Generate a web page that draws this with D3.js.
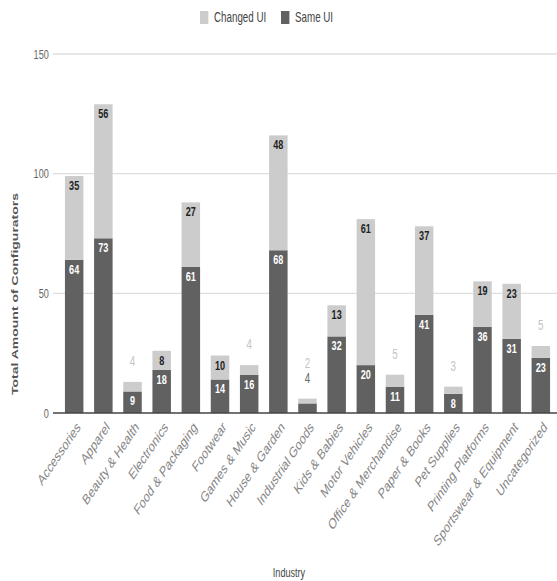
<!DOCTYPE html>
<html>
<head>
<meta charset="utf-8">
<script src="https://cdn.jsdelivr.net/npm/d3@7"></script>
<style>
  html, body { margin: 0; padding: 0; background: #fff; }
  svg { display: block; }
  text { font-family: Arial, "Liberation Sans", sans-serif; }
</style>
</head>
<body>
<svg id="chart"></svg>
<script>
// Configurators per industry, split by whether the UI was changed
const industries = [
  "Accessories", "Apparel", "Beauty & Health", "Electronics", "Food & Packaging",
  "Footwear", "Games & Music", "House & Garden", "Industrial Goods", "Kids & Babies",
  "Motor Vehicles", "Office & Merchandise", "Paper & Books", "Pet Supplies",
  "Printing Platforms", "Sportswear & Equipment", "Uncategorized"
];
const sameUI    = [64, 73, 9, 18, 61, 14, 16, 68, 4, 32, 20, 11, 41, 8, 36, 31, 23];
const changedUI = [35, 56, 4, 8, 27, 10, 4, 48, 2, 13, 61, 5, 37, 3, 19, 23, 5];
const yTicks = [0, 50, 100, 150];

const seriesNames = ["Same UI", "Changed UI"];
const colors = { "Same UI": "#616161", "Changed UI": "#cccccc" };
const insideText = { "Same UI": "#ffffff", "Changed UI": "#222222" };
const outsideText = { "Same UI": "#666666", "Changed UI": "#c4c4c4" };

// The drawing uses a wide internal coordinate space that is squeezed
// horizontally into the page, giving the narrow look of the lettering.
const outW = 557, outH = 581;
const sx = 0.7;
const W = outW / sx, H = outH;

const svg = d3.select("#chart")
  .attr("width", outW).attr("height", outH)
  .attr("viewBox", `0 0 ${W} ${H}`)
  .attr("preserveAspectRatio", "none");

const rows = industries.map((name, i) => ({
  industry: name, "Same UI": sameUI[i], "Changed UI": changedUI[i]
}));

const x = d3.scaleBand()
  .domain(industries)
  .range([59.6 / sx, 555.4 / sx])
  .paddingInner(0.366)
  .paddingOuter(0.183);

const y = d3.scaleLinear().domain([0, 150]).range([413, 54]);

// gridlines + tick labels
const gridLeft = 53 / sx;
const grid = svg.append("g");
grid.selectAll("line")
  .data(yTicks.filter(t => t !== 0))
  .join("line")
  .attr("x1", gridLeft).attr("x2", W)
  .attr("y1", d => y(d)).attr("y2", d => y(d))
  .attr("stroke", "#dedede").attr("stroke-width", 1.4);

const yAxis = svg.append("g")
  .attr("transform", `translate(${gridLeft},0)`)
  .call(d3.axisLeft(y).tickValues(yTicks).tickSize(0).tickPadding(6));
yAxis.select(".domain").remove();
yAxis.selectAll("text")
  .attr("font-size", 13).attr("fill", "#666")
  .attr("font-family", "Arial, 'Liberation Sans', sans-serif");

// stacked bars
const stacked = d3.stack().keys(seriesNames)(rows);
const layers = svg.append("g").selectAll("g")
  .data(stacked)
  .join("g")
  .attr("fill", d => colors[d.key]);

layers.selectAll("rect")
  .data(d => d)
  .join("rect")
  .attr("x", d => x(d.data.industry))
  .attr("width", x.bandwidth())
  .attr("y", d => y(d[1]))
  .attr("height", d => y(d[0]) - y(d[1]));

// baseline
svg.append("line")
  .attr("x1", gridLeft).attr("x2", W)
  .attr("y1", y(0)).attr("y2", y(0))
  .attr("stroke", "#444").attr("stroke-width", 1.4);

// value labels: inside the segment when it is tall enough, otherwise above the bar
const labels = svg.append("g").attr("font-weight", "bold").attr("font-size", 13)
  .attr("text-anchor", "middle");
rows.forEach(row => {
  const cx = x(row.industry) + x.bandwidth() / 2;
  let base = 0;
  const total = row["Same UI"] + row["Changed UI"];
  let outsideCount = 0;
  seriesNames.forEach(key => {
    const v = row[key];
    const top = y(base + v), bottom = y(base);
    if (bottom - top >= 15) {
      labels.append("text")
        .attr("x", cx).attr("y", top + 14)
        .attr("fill", insideText[key])
        .text(v);
    } else {
      labels.append("text")
        .attr("x", cx).attr("y", y(total) - 20 - 15 * outsideCount + 4)
        .attr("fill", outsideText[key])
        .attr("font-weight", "normal")
        .attr("font-size", 14)
        .text(v);
      outsideCount++;
    }
    base += v;
  });
});

// category labels, slanted
const xAxis = svg.append("g")
  .attr("transform", `translate(0,${y(0)})`)
  .call(d3.axisBottom(x).tickSize(0).tickPadding(0));
xAxis.select(".domain").remove();
xAxis.selectAll("text")
  .attr("font-size", 15).attr("fill", "#858585")
  .attr("font-family", "Arial, 'Liberation Sans', sans-serif")
  .attr("text-anchor", "end")
  .attr("dy", null)
  .attr("transform", "translate(10,15) rotate(-46)");

// axis titles
svg.append("text")
  .attr("transform", `translate(${15 / sx},294) rotate(-90)`)
  .attr("text-anchor", "middle").attr("dy", "0.35em")
  .attr("font-size", 14).attr("font-weight", "bold").attr("fill", "#555")
  .text("Total Amount of Configurators");

svg.append("text")
  .attr("x", 289 / sx).attr("y", 572).attr("dy", "0.35em")
  .attr("text-anchor", "middle")
  .attr("font-size", 13).attr("fill", "#444")
  .text("Industry");

// legend
const legendItems = [
  { key: "Changed UI", sq: 200, tx: 214 },
  { key: "Same UI", sq: 281, tx: 295 }
];
const legend = svg.append("g");
legendItems.forEach(it => {
  legend.append("rect")
    .attr("x", it.sq / sx).attr("y", 11)
    .attr("width", 12).attr("height", 13)
    .attr("fill", colors[it.key]);
  legend.append("text")
    .attr("x", it.tx / sx).attr("y", 17.5).attr("dy", "0.35em")
    .attr("font-size", 14).attr("fill", "#444")
    .text(it.key);
});
</script>
</body>
</html>
